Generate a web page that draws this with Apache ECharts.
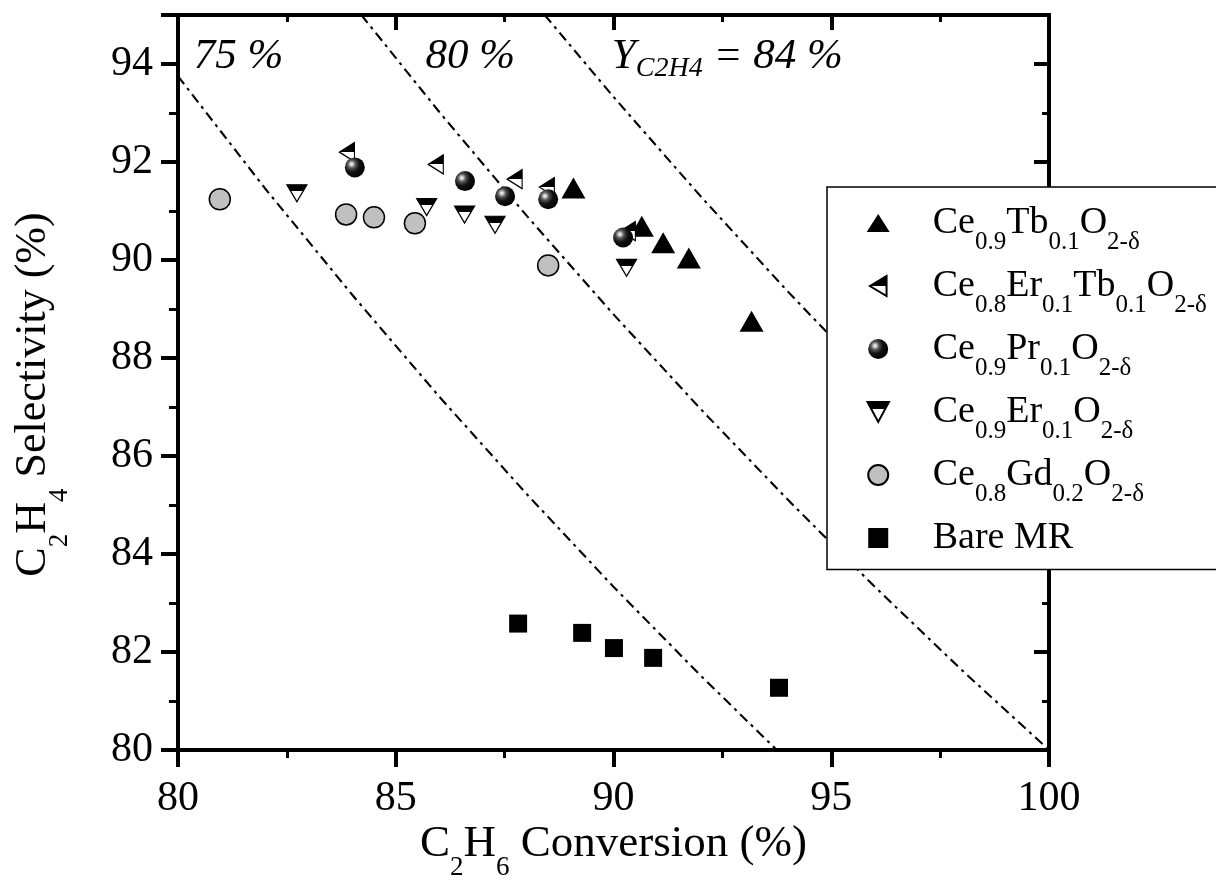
<!DOCTYPE html>
<html>
<head>
<meta charset="utf-8">
<script src="https://cdn.jsdelivr.net/npm/echarts@6/dist/echarts.min.js"></script>
<style>html,body{margin:0;padding:0;background:#fff}#c{width:1216px;height:881px}</style>
</head>
<body>
<div id="c"></div>
<script>
// ---- data ----
const seriesNames = ['Ce0.9Tb0.1O2-δ', 'Ce0.8Er0.1Tb0.1O2-δ', 'Ce0.9Pr0.1O2-δ', 'Ce0.9Er0.1O2-δ', 'Ce0.8Gd0.2O2-δ', 'Bare MR'];
const legendLabels = [
  '{m|Ce}{s|0.9}{m|Tb}{s|0.1}{m|O}{s|2-δ}',
  '{m|Ce}{s|0.8}{m|Er}{s|0.1}{m|Tb}{s|0.1}{m|O}{s|2-δ}',
  '{m|Ce}{s|0.9}{m|Pr}{s|0.1}{m|O}{s|2-δ}',
  '{m|Ce}{s|0.9}{m|Er}{s|0.1}{m|O}{s|2-δ}',
  '{m|Ce}{s|0.8}{m|Gd}{s|0.2}{m|O}{s|2-δ}',
  '{m|Bare MR}'
];

const tbX = [89.08, 90.65, 91.14, 91.73, 93.17];
const tbY = [91.47, 90.69, 90.35, 90.04, 88.75];

const erTbX = [83.88, 85.92, 87.73, 88.47, 90.33];
const erTbY = [92.20, 91.95, 91.65, 91.49, 90.59];

const prX = [84.06, 86.59, 87.51, 88.50, 90.22];
const prY = [91.89, 91.61, 91.30, 91.24, 90.46];

const erX = [82.73, 85.71, 86.58, 87.28, 90.30];
const erY = [91.36, 91.08, 90.93, 90.72, 89.84];

const gdX = [80.96, 83.86, 84.50, 85.44, 88.50];
const gdY = [91.24, 90.93, 90.87, 90.75, 89.89];

const bareX = [87.81, 89.28, 90.01, 90.91, 93.80];
const bareY = [82.58, 82.39, 82.08, 81.88, 81.27];

// iso-yield reference curves
const yield75X = [80, 82, 84, 86, 88, 90, 92, 93.75];
const yield75Y = [93.75, 91.46, 89.29, 87.21, 85.23, 83.33, 81.52, 80];
const yield80X = [84.21, 86, 88, 90, 92, 94, 96, 98, 100];
const yield80Y = [95, 93.02, 90.91, 88.89, 86.96, 85.11, 83.33, 81.63, 80];
const yield84X = [88.42, 90, 92, 94, 96, 98, 100];
const yield84Y = [95, 93.33, 91.30, 89.36, 87.50, 85.71, 84];

const annoX = [80.35, 85.67, 89.95];
const annoY = [94.15, 94.15, 94.15];
const annoText = ['{i|75 %}', '{i|80 %}', '{i|Y}{t|C2H4}{i| = 84 %}'];

const xMin = 80, xMax = 100, xInterval = 5;
const yMin = 80, yMax = 95, yInterval = 2;

// ---- chart ----
const FONT = 'Liberation Serif';
const zip = (xs, ys) => xs.map((x, i) => [x, ys[i]]);
const halfFill = (split) => ({
  type: 'linear', x: 0, y: 0, x2: 0, y2: 1,
  colorStops: [
    {offset: 0, color: '#000'}, {offset: split, color: '#000'},
    {offset: split, color: '#fff'}, {offset: 1, color: '#fff'}
  ]
});
const ballFill = {
  type: 'radial', x: 0.34, y: 0.34, r: 0.72,
  colorStops: [
    {offset: 0, color: '#ffffff'}, {offset: 0.1, color: '#d0d0d0'},
    {offset: 0.28, color: '#555555'}, {offset: 0.55, color: '#111111'},
    {offset: 1, color: '#000000'}
  ]
};

const ERTB_PATH = 'path://M0,9.5 L15,0 L15,19 Z';
const ER_PATH = 'path://M0,0 L20,0 L10,17 Z';

const isoLine = (name, xs, ys) => ({
  name: name, type: 'line', data: zip(xs, ys), symbol: 'none', silent: true, z: 1,
  lineStyle: {color: '#000', width: 2.1, type: [10, 5, 3, 5]},
  animation: false
});

const axisCommon = {
  axisLine: {show: true, lineStyle: {color: '#000', width: 4, cap: 'square'}},
  splitLine: {show: false},
  nameMoveOverlap: false
};

const option = {
  animation: false,
  backgroundColor: '#fff',
  grid: {left: 178, right: 167, top: 15, bottom: 131, containLabel: false, outerBoundsMode: 'none'},
  xAxis: [
    Object.assign({}, axisCommon, {
      type: 'value', min: xMin, max: xMax, interval: xInterval, position: 'bottom',
      axisTick: {show: true, length: 17, inside: false, lineStyle: {color: '#000', width: 4}},
      minorTick: {show: true, splitNumber: 2, length: 8, lineStyle: {color: '#000', width: 3}},
      axisLabel: {color: '#000', fontFamily: FONT, fontSize: 42, margin: 28},
      name: '{m|C}{s|2}{m|H}{s|6}{m| Conversion (%)}',
      nameLocation: 'middle', nameGap: 57,
      nameTextStyle: {color: '#000', fontFamily: FONT, fontSize: 45,
        rich: {m: {fontFamily: FONT, fontSize: 45, color: '#000'},
               s: {fontFamily: FONT, fontSize: 27, color: '#000', padding: [47, 0, 0, 0]}}}
    }),
    Object.assign({}, axisCommon, {
      type: 'value', min: xMin, max: xMax, interval: xInterval, position: 'top',
      axisTick: {show: true, length: 15, inside: true, lineStyle: {color: '#000', width: 4}},
      minorTick: {show: true, splitNumber: 2, length: 7, lineStyle: {color: '#000', width: 3}},
      axisLabel: {show: false}
    })
  ],
  yAxis: [
    Object.assign({}, axisCommon, {
      type: 'value', min: yMin, max: yMax, interval: yInterval, position: 'left',
      axisTick: {show: true, length: 17, inside: false, lineStyle: {color: '#000', width: 4}},
      minorTick: {show: true, splitNumber: 2, length: 9, lineStyle: {color: '#000', width: 3}},
      axisLabel: {color: '#000', fontFamily: FONT, fontSize: 42, margin: 25, showMaxLabel: false},
      name: '{m|C}{s|2}{m|H}{s|4}{m| Selectivity (%)}',
      nameLocation: 'middle', nameGap: 105,
      nameTextStyle: {color: '#000', fontFamily: FONT, fontSize: 44, padding: [0, 24, 0, 0],
        rich: {m: {fontFamily: FONT, fontSize: 44, color: '#000'},
               s: {fontFamily: FONT, fontSize: 27, color: '#000', padding: [53, 0, 0, 0]}}}
    }),
    Object.assign({}, axisCommon, {
      type: 'value', min: yMin, max: yMax, interval: yInterval, position: 'right',
      axisTick: {show: true, length: 15, inside: true, lineStyle: {color: '#000', width: 4}},
      minorTick: {show: true, splitNumber: 2, length: 7, lineStyle: {color: '#000', width: 3}},
      axisLabel: {show: false}
    })
  ],
  legend: {
    orient: 'vertical', left: 827, top: 187,
    padding: [4.5, 12, 0, 39.5],
    itemWidth: 23, itemHeight: 20, itemGap: 0,
    backgroundColor: '#fff', borderColor: '#000', borderWidth: 1.5, borderRadius: 0,
    symbolKeepAspect: true,
    selectedMode: false,
    data: [
      {name: seriesNames[0], icon: 'path://M0,18 L11.5,0 L23,18 Z'},
      {name: seriesNames[1], icon: 'path://M0,9 L15,0 L15,18 Z'},
      {name: seriesNames[2], icon: 'circle'},
      {name: seriesNames[3], icon: 'path://M0,0 L15,0 L7.5,14 Z'},
      {name: seriesNames[4], icon: 'circle'},
      {name: seriesNames[5], icon: 'path://M0,0 L18,0 L18,18 L0,18 Z'}
    ],
    formatter: (name) => legendLabels[seriesNames.indexOf(name)],
    textStyle: {
      color: '#000', fontFamily: FONT, fontSize: 38, lineHeight: 63, padding: [0, 0, 0, 38],
      rich: {
        m: {fontFamily: FONT, fontSize: 38, color: '#000', lineHeight: 63},
        s: {fontFamily: FONT, fontSize: 25, color: '#000', lineHeight: 63, padding: [38, 0, 0, 0]}
      }
    }
  },
  series: [
    isoLine('Y75', yield75X, yield75Y),
    isoLine('Y80', yield80X, yield80Y),
    isoLine('Y84', yield84X, yield84Y),
    {
      name: 'annotations', type: 'scatter', silent: true, z: 2,
      data: annoX.map((x, i) => [x, annoY[i], annoText[i]]),
      symbolSize: 1, itemStyle: {color: 'rgba(255,255,255,0)'},
      label: {
        show: true, position: 'right', distance: 0, color: '#000', opacity: 1,
        formatter: (p) => p.data[2],
        rich: {
          i: {fontFamily: FONT, fontStyle: 'italic', fontSize: 43, color: '#000', opacity: 1},
          t: {fontFamily: FONT, fontStyle: 'italic', fontSize: 28, color: '#000', opacity: 1, padding: [24, 0, 0, 0]}
        }
      }
    },
    {
      name: seriesNames[4], type: 'scatter', z: 3, data: zip(gdX, gdY),
      symbol: 'circle', symbolSize: 21,
      itemStyle: {color: '#c0c0c0', borderColor: '#000', borderWidth: 1.5, opacity: 1}
    },
    {
      name: seriesNames[3], type: 'scatter', z: 3, data: zip(erX, erY),
      symbol: ER_PATH, symbolSize: [20, 17],
      itemStyle: {color: halfFill(0.38), borderColor: '#000', borderWidth: 1.2, opacity: 1}
    },
    {
      name: seriesNames[0], type: 'scatter', z: 3, data: zip(tbX, tbY),
      symbol: 'triangle', symbolSize: [24, 21],
      itemStyle: {color: '#000', opacity: 1}
    },
    {
      name: seriesNames[1], type: 'scatter', z: 3, data: zip(erTbX, erTbY),
      symbol: ERTB_PATH, symbolSize: [15, 19],
      itemStyle: {color: halfFill(0.5), borderColor: '#000', borderWidth: 1.2, opacity: 1}
    },
    {
      name: seriesNames[2], type: 'scatter', z: 3, data: zip(prX, prY),
      symbol: 'circle', symbolSize: 20,
      itemStyle: {color: ballFill, opacity: 1}
    },
    {
      name: seriesNames[5], type: 'scatter', z: 3, data: zip(bareX, bareY),
      symbol: 'rect', symbolSize: 18,
      itemStyle: {color: '#000', opacity: 1}
    }
  ]
};

const chart = echarts.init(document.getElementById('c'), null, {renderer: 'canvas'});
chart.setOption(option);
</script>
</body>
</html>
